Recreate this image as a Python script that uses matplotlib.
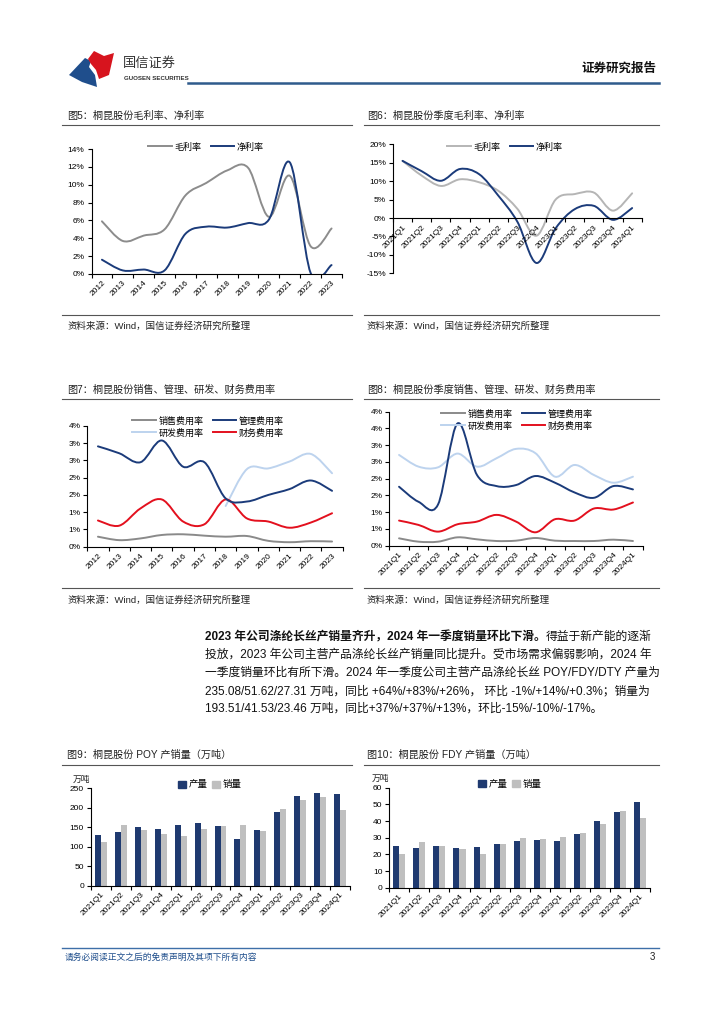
import numpy as np
import matplotlib
matplotlib.use('Agg')
import matplotlib.pyplot as plt
from matplotlib.lines import Line2D
from matplotlib.patches import Polygon, PathPatch, Patch
from matplotlib.path import Path

plt.rcParams['font.family'] = ['Liberation Sans', 'Noto Sans CJK SC', 'DejaVu Sans']

# ---- data ----
years = ['2012', '2013', '2014', '2015', '2016', '2017', '2018', '2019', '2020', '2021', '2022', '2023']
quarters = ['2021Q1', '2021Q2', '2021Q3', '2021Q4', '2022Q1', '2022Q2', '2022Q3',
            '2022Q4', '2023Q1', '2023Q2', '2023Q3', '2023Q4', '2024Q1']

gross_margin_y = [5.9, 3.7, 4.3, 5.0, 8.8, 10.2, 11.6, 11.9, 6.4, 11.0, 3.1, 5.1]
net_margin_y = [1.6, 0.4, 0.5, 0.4, 4.5, 5.3, 5.2, 5.7, 6.1, 12.5, 0.1, 1.0]

gross_margin_q = [15.5, 11.5, 8.7, 10.5, 9.7, 7.4, 2.5, -4.8, 5.0, 6.5, 6.9, 2.0, 6.7]
net_margin_q = [15.5, 12.7, 10.1, 13.3, 11.9, 6.1, -1.0, -12.2, -2.8, 2.4, 3.3, -0.5, 2.7]

sales_y = [0.29, 0.19, 0.24, 0.34, 0.36, 0.32, 0.29, 0.31, 0.17, 0.13, 0.16, 0.15]
admin_y = [2.91, 2.71, 2.45, 3.08, 2.32, 2.45, 1.40, 1.31, 1.50, 1.67, 1.92, 1.62]
rd_y = [None, None, None, None, None, None, 1.18, 2.25, 2.27, 2.47, 2.69, 2.13]
fin_y = [0.76, 0.61, 1.11, 1.37, 0.73, 0.65, 1.37, 0.82, 0.73, 0.55, 0.70, 0.97]

sales_q = [0.22, 0.12, 0.12, 0.25, 0.19, 0.14, 0.15, 0.23, 0.15, 0.14, 0.14, 0.18, 0.14]
admin_q = [1.76, 1.31, 1.23, 3.65, 2.11, 1.78, 1.81, 2.08, 1.88, 1.59, 1.43, 1.78, 1.68]
rd_q = [2.71, 2.36, 2.34, 2.75, 2.36, 2.61, 2.89, 2.76, 2.06, 2.41, 2.11, 1.88, 2.06]
fin_q = [0.75, 0.62, 0.42, 0.64, 0.72, 0.92, 0.72, 0.40, 0.79, 0.75, 1.11, 1.08, 1.29]

poy_prod = [130, 138, 151, 145, 156, 161, 153, 121, 143, 190, 229, 238, 235.08]
poy_sales = [113, 157, 143, 132, 127, 145, 152, 156, 141, 196, 221, 228, 193.51]
fdy_prod = [25, 23.6, 25, 23.6, 24.6, 26.4, 28.2, 28.4, 28.2, 32, 40, 45.3, 51.62]
fdy_sales = [20, 27.6, 25, 23, 20, 26, 29.6, 29.4, 30.3, 32.6, 38, 46.1, 41.53]

pct_ticks_f5 = [0, 2, 4, 6, 8, 10, 12, 14]
pct_ticks_f6 = [-15, -10, -5, 0, 5, 10, 15, 20]
ticks_f7 = [0, 0.5, 1, 1.5, 2, 2.5, 3, 3.5]
labels_f7 = ['0%', '1%', '1%', '2%', '2%', '3%', '3%', '4%']
ticks_f8 = [0, 0.5, 1, 1.5, 2, 2.5, 3, 3.5, 4]
labels_f8 = ['0%', '1%', '1%', '2%', '2%', '3%', '3%', '4%', '4%']

NAVY = '#1B3B7A'
W, H = 724, 1024
fig = plt.figure(figsize=(W / 100, H / 100), dpi=100)


def fy(py):
    return 1 - py / H


def add_ax(l, t, r, b):
    return fig.add_axes([l / W, 1 - b / H, (r - l) / W, (b - t) / H])


def hline(x0, x1, y, color='#555555', lw=0.8):
    fig.add_artist(Line2D([x0 / W, x1 / W], [fy(y), fy(y)], transform=fig.transFigure,
                          color=color, lw=lw))


def ftext(x, y, s, **kw):
    return fig.text(x / W, fy(y), s, **kw)


def smooth(ax, ys, color, lw=1.4):
    # Excel-like smoothed line: cubic bezier through the data points
    pts = [np.array([i, v], float) for i, v in enumerate(ys) if v is not None]
    n = len(pts)
    verts = [pts[0]]
    codes = [Path.MOVETO]
    for i in range(n - 1):
        p0 = pts[i - 1] if i > 0 else pts[i]
        p1, p2 = pts[i], pts[i + 1]
        p3 = pts[i + 2] if i + 2 < n else p2
        verts += [p1 + (p2 - p0) / 6, p2 - (p3 - p1) / 6, p2]
        codes += [Path.CURVE4] * 3
    ax.add_patch(PathPatch(Path(verts, codes), fill=False, edgecolor=color, lw=lw,
                           capstyle='round', joinstyle='round'))


def style(ax, cats, ylim, yticks, ylabels, zero_axis=False):
    n = len(cats)
    for s in ['top', 'right']:
        ax.spines[s].set_visible(False)
    for s in ['left', 'bottom']:
        ax.spines[s].set_linewidth(0.8)
    if zero_axis:
        ax.spines['bottom'].set_position(('data', 0))
    ax.set_xlim(-0.5, n - 0.5)
    ax.set_ylim(*ylim)
    ax.set_xticks(np.arange(n))
    ax.set_xticklabels(cats, rotation=45, ha='right', va='top', rotation_mode='anchor',
                       fontsize=6)
    ax.set_xticks(np.arange(n + 1) - 0.5, minor=True)
    ax.tick_params(axis='x', which='major', length=0, pad=4)
    ax.tick_params(axis='x', which='minor', length=3, width=0.8, direction='out')
    ax.set_yticks(yticks)
    ax.set_yticklabels(ylabels, fontsize=6)
    ax.tick_params(axis='y', length=3, width=0.8, direction='out', pad=2)
    ax.patch.set_alpha(0)


def line_legend(ax, handles, labels, cx, cy, ncol):
    ax.legend(handles, labels, loc='center', bbox_to_anchor=(cx / W, fy(cy)),
              bbox_transform=fig.transFigure, ncol=ncol, frameon=False, fontsize=6.5,
              handlelength=2.6, handletextpad=0.3, columnspacing=1.0, labelspacing=0.3,
              borderpad=0)


# ---- header ----
blue_shape = [(69, 75), (85, 58), (91, 61), (89, 67), (95, 75), (97, 87), (82, 82)]
red_shape = [(88, 59), (94, 51), (104, 56), (114, 53), (109, 75), (99, 79), (96, 70), (91, 64)]
fig.add_artist(Polygon([(x / W, fy(y)) for x, y in blue_shape], closed=True,
                       transform=fig.transFigure, color='#1F4E8C', lw=0))
fig.add_artist(Polygon([(x / W, fy(y)) for x, y in red_shape], closed=True,
                       transform=fig.transFigure, color='#D7141E', lw=0))
ftext(123, 64, '国信证券', fontsize=9.5, color='#333333', va='center', ha='left')
ftext(124, 79, 'GUOSEN SECURITIES', fontsize=4.4, color='#333333', va='center', ha='left',
      fontweight='bold')
ftext(656, 69, '证券研究报告', fontsize=9, fontweight='bold', ha='right', va='center',
      color='#111111')
hline(188, 659, 83, color='#2F5B8C', lw=1.8)

# ---- chart titles and source lines ----
titles = [(67, 116, '图5：桐昆股份毛利率、净利率'), (367, 116, '图6：桐昆股份季度毛利率、净利率'),
          (67, 390, '图7：桐昆股份销售、管理、研发、财务费用率'),
          (367, 390, '图8：桐昆股份季度销售、管理、研发、财务费用率'),
          (67, 755, '图9：桐昆股份 POY 产销量（万吨）'), (367, 755, '图10：桐昆股份 FDY 产销量（万吨）')]
for x, y, s in titles:
    ftext(x, y, s, fontsize=7.3, va='center', ha='left', color='#222222')
for y in [125, 399, 765]:
    hline(62, 352, y)
    hline(364, 659, y)
for y, ty in [(315, 326), (588, 600)]:
    hline(62, 352, y)
    hline(364, 659, y)
    ftext(67, ty, '资料来源：Wind，国信证券经济研究所整理', fontsize=6.8, va='center', color='#222222')
    ftext(367, ty, '资料来源：Wind，国信证券经济研究所整理', fontsize=6.8, va='center', color='#222222')

# ---- fig5 ----
ax5 = add_ax(91.5, 149, 342, 274)
style(ax5, years, (0, 14), pct_ticks_f5, [f'{v}%' for v in pct_ticks_f5])
smooth(ax5, gross_margin_y, '#8C8C8C')
smooth(ax5, net_margin_y, NAVY)
line_legend(ax5, [Line2D([], [], color='#8C8C8C', lw=1.4), Line2D([], [], color=NAVY, lw=1.4)],
            ['毛利率', '净利率'], 206, 147, 2)

# ---- fig6 ----
ax6 = add_ax(393, 144.3, 641.7, 273.3)
style(ax6, quarters, (-15, 20), pct_ticks_f6, [f'{v}%' for v in pct_ticks_f6], zero_axis=True)
smooth(ax6, gross_margin_q, '#B5B5B5')
smooth(ax6, net_margin_q, NAVY)
line_legend(ax6, [Line2D([], [], color='#B5B5B5', lw=1.4), Line2D([], [], color=NAVY, lw=1.4)],
            ['毛利率', '净利率'], 505, 147, 2)

# ---- fig7 ----
C_SALES, C_RD, C_FIN = '#8A8A8A', '#BDD3EE', '#E3101E'
ax7 = add_ax(87.3, 426, 342.7, 546.7)
style(ax7, years, (0, 3.5), ticks_f7, labels_f7)
smooth(ax7, sales_y, C_SALES)
smooth(ax7, rd_y, C_RD)
smooth(ax7, fin_y, C_FIN)
smooth(ax7, admin_y, NAVY)
h7 = [Line2D([], [], color=c, lw=1.4) for c in [C_SALES, C_RD, NAVY, C_FIN]]
line_legend(ax7, h7, ['销售费用率', '研发费用率', '管理费用率', '财务费用率'], 208, 427, 2)

# ---- fig8 ----
ax8 = add_ax(389.3, 411.7, 642.7, 545.7)
style(ax8, quarters, (0, 4), ticks_f8, labels_f8)
smooth(ax8, sales_q, C_SALES)
smooth(ax8, rd_q, C_RD)
smooth(ax8, fin_q, C_FIN)
smooth(ax8, admin_q, NAVY)
h8 = [Line2D([], [], color=c, lw=1.4) for c in [C_SALES, C_RD, NAVY, C_FIN]]
line_legend(ax8, h8, ['销售费用率', '研发费用率', '管理费用率', '财务费用率'], 517, 420, 2)

# ---- paragraph ----
FS = 8.5
para_x = 205
para_y = [637, 655, 673, 691, 709]
bold = ftext(para_x, para_y[0], '2023 年公司涤纶长丝产销量齐升，2024 年一季度销量环比下滑。',
             fontsize=FS, fontweight='bold', va='center', color='#111111')
ax5.annotate('得益于新产能的逐渐', xy=(1, 0), xycoords=bold, va='bottom', ha='left',
             fontsize=FS, color='#111111', annotation_clip=False)
para_lines = ['投放，2023 年公司主营产品涤纶长丝产销量同比提升。受市场需求偏弱影响，2024 年',
              '一季度销量环比有所下滑。2024 年一季度公司主营产品涤纶长丝 POY/FDY/DTY 产量为',
              '235.08/51.62/27.31 万吨，同比 +64%/+83%/+26%， 环比 -1%/+14%/+0.3%；销量为',
              '193.51/41.53/23.46 万吨，同比+37%/+37%/+13%，环比-15%/-10%/-17%。']
for y, s in zip(para_y[1:], para_lines):
    ftext(para_x, y, s, fontsize=FS, va='center', color='#111111')

# ---- fig9 / fig10 bars ----
BAR_GRAY = '#BFBFBF'
BAR_NAVY = '#1F3A70'


def bar_chart(l, t, r, b, prod, sales, ylim, yticks, leg_x, leg_y):
    ax = add_ax(l, t, r, b)
    style(ax, quarters, ylim, yticks, [str(v) for v in yticks])
    x = np.arange(len(quarters))
    ax.bar(x - 0.15, prod, width=0.3, color=BAR_NAVY, lw=0)
    ax.bar(x + 0.15, sales, width=0.3, color=BAR_GRAY, lw=0)
    ax.legend([Patch(color=BAR_NAVY), Patch(color=BAR_GRAY)], ['产量', '销量'], loc='center',
              bbox_to_anchor=(leg_x / W, fy(leg_y)), bbox_transform=fig.transFigure, ncol=2,
              frameon=False, fontsize=6.8, handlelength=0.8, handleheight=0.8,
              handletextpad=0.3, columnspacing=0.5, borderpad=0)
    ftext(l - 18, t - 9, '万吨', fontsize=6.3, va='center', ha='left', color='#222222')
    return ax


bar_chart(91, 788.3, 350, 885.7, poy_prod, poy_sales, (0, 250), [0, 50, 100, 150, 200, 250], 210, 785)
bar_chart(389.3, 787.7, 650, 887.7, fdy_prod, fdy_sales, (0, 60), [0, 10, 20, 30, 40, 50, 60], 510, 784)

# ---- footer ----
hline(62, 659, 948, color='#3E6FA8', lw=1.0)
ftext(65, 957, '请务必阅读正文之后的免责声明及其项下所有内容', fontsize=6.3, style='italic',
      color='#1F4E8C', va='center')
ftext(655, 957, '3', fontsize=7, va='center', ha='right', color='#222222')

fig.savefig('out.png', dpi=100)
